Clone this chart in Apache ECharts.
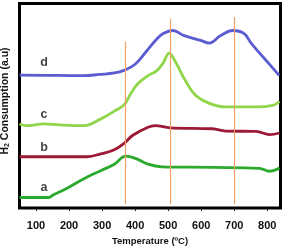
<!DOCTYPE html>
<html><head><meta charset="utf-8">
<script src="https://cdn.jsdelivr.net/npm/echarts@6/dist/echarts.min.js"></script>
<style>html,body{margin:0;padding:0;background:#fff}#c{width:283px;height:251px}</style>
</head><body><div id="c"></div>
<script>
// Temperature (°C) / signal pairs (arbitrary units)
const curveA = [[50,11],[138,11],[153,13.8],[194,20.5],[245,30.5],[296,38.8],[337,45.5],[372,53.8],[408,50.5],[439,45.5],[481,42.8],[634,42.2],[776,41.2],[807,38.2],[837,41.5]];
const curveB = [[50,53.2],[255,53.2],[296,56.2],[337,60.5],[367,67.2],[393,75.5],[439,83.8],[460,85.5],[506,83.2],[634,82.2],[674,79.8],[766,79.5],[807,76.2],[837,77.8]];
const curveC = [[50,87.2],[71,85.5],[123,87.2],[172,86.2],[245,85.5],[295,92.2],[337,100.5],[367,107.2],[387,118.8],[408,128.8],[439,137.2],[465,142.2],[485,150.5],[503,160.5],[521,152.2],[552,132.2],[582,117.2],[623,108.8],[674,104.8],[766,104.8],[817,106.5],[837,110.5]];
const curveD = [[50,137.8],[169,137.5],[245,137.2],[292,138.5],[338,140],[368,143],[400,149],[433,162],[465,175],[485,181],[515,184],[546,179],[598,173.8],[625,171],[659,178.8],[696,184],[729,181],[751,171],[790,155.5],[836,137.5]];
const seriesNames = ['a','b','c','d'];
const seriesColors = ['#2caa2e','#9c1a36','#8fd64a','#5b5bd2'];
const xTicks = [100,200,300,400,500,600,700,800];
const vLinesT = [370,505,700];
const vLinesTop = [172.5,196.5,198];
const vLinesBottom = 4.5;
const labelT = [124,124,124,124];
const labelV = [21,63,97,151];

const chart = echarts.init(document.getElementById('c'), null, {renderer:'canvas'});
const font = '"Liberation Sans", Arial, sans-serif';
const datasets = [curveA, curveB, curveC, curveD];
const series = datasets.map((d,i)=>({
  type:'line', name:seriesNames[i], data:d, smooth:0.4, symbol:'none',
  lineStyle:{color:seriesColors[i], width:2.8}, z:3
}));
series.push({
  type:'line', data:[], silent:true,
  markLine:{symbol:'none', silent:true, label:{show:false},
    lineStyle:{color:'#f2a262', width:1.2, type:'solid'},
    data: vLinesT.map((t,i)=>[{coord:[t,vLinesTop[i]]},{coord:[t,vLinesBottom]}])}
});
series.push({
  type:'scatter', symbolSize:0, silent:true,
  data: seriesNames.map((n,i)=>({value:[labelT[i],labelV[i]], name:n})),
  label:{show:true, position:'inside', formatter:p=>p.name, color:'#111', fontFamily:font, fontWeight:'bold', fontSize:12.5}
});
chart.setOption({
  animation:false,
  grid:{left:19.5, right:2.5, top:3.5, bottom:35.5, show:true, borderColor:'#000', borderWidth:3, backgroundColor:'#fff'},
  xAxis:{type:'value', min:50, max:840,
    axisLine:{show:false},
    axisTick:{show:true, customValues:xTicks, length:3, lineStyle:{color:'#222', width:1}},
    axisLabel:{customValues:xTicks, color:'#111', fontFamily:font, fontWeight:'bold', fontSize:11, margin:12},
    splitLine:{show:false},
    name:'Temperature (ºC)', nameLocation:'middle', nameGap:25,
    nameTextStyle:{color:'#111', fontFamily:font, fontWeight:'bold', fontSize:9.5}
  },
  yAxis:{type:'value', min:0, max:212, axisLine:{show:false}, axisTick:{show:false}, axisLabel:{show:false}, splitLine:{show:false}},
  graphic:[{type:'text', x:5, y:101, rotation:Math.PI/2, style:{
    text:'{m|H}{s|2}{m| Consumption (a.u)}', align:'center', verticalAlign:'middle',
    rich:{m:{fontFamily:font, fontWeight:'bold', fontSize:10.5, fill:'#111'}, s:{fontFamily:font, fontWeight:'bold', fontSize:7, fill:'#111', verticalAlign:'bottom', padding:[5,0,0,0]}}
  }}],
  series
});
</script></body></html>
